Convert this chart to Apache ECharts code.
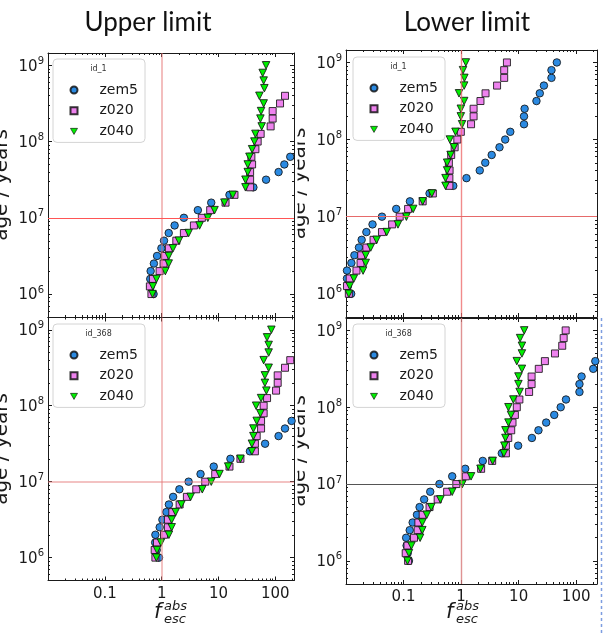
<!DOCTYPE html>
<html><head><meta charset="utf-8">
<script src="https://cdn.jsdelivr.net/npm/echarts@6/dist/echarts.min.js"></script>
<style>html,body{margin:0;padding:0;background:#fff}#c{width:603px;height:635px}</style>
</head><body><div id="c"></div>
<script>
// ---- data ----
const ages = [1e6, 1.26e6, 1.58e6, 2e6, 2.51e6, 3.16e6, 3.98e6, 5.01e6, 6.31e6, 7.94e6,
  1e7, 1.26e7, 1.58e7, 2e7, 2.51e7, 3.16e7, 3.98e7, 5.01e7, 6.31e7, 7.94e7,
  1e8, 1.26e8, 1.58e8, 2e8, 2.51e8, 3.16e8, 3.98e8, 5.01e8, 6.31e8, 7.94e8, 1e9];
const seriesNames = ['zem5', 'z020', 'z040'];
const panelTitles = ['Upper limit', 'Lower limit'];
const legendTitles = ['id_1', 'id_1', 'id_368', 'id_368'];
const xTickLabels = [0.1, 1, 10, 100];
const yTickLabels = [1e6, 1e7, 1e8, 1e9];
const refX = 1, refY = 1e7;

// Upper limit, id_1
const tl_zem5 = [0.72, 0.64, 0.63, 0.64, 0.73, 0.83, 0.99, 1.1, 1.33, 1.69, 2.46, 4.33, 7.45, 15.6, 41.1, 68.7, 114, 144, 183, null, null, null, null, null, null, null, null, null, null, null, null];
const tl_z020 = [0.66, 0.62, 0.70, 0.92, 1.08, 1.13, 1.34, 1.81, 2.46, 3.69, 5.09, 7.14, 13.3, 19.1, 36, 36, 36, 39, 37.9, 44.6, 48.9, 55.2, 82.7, 89.7, 89.7, 121, 148, null, null, null, null];
const tl_z040 = [0.69, 0.70, 0.81, 1.16, 1.33, 1.33, 1.58, 2.01, 2.98, 4.64, 6.49, 8.51, 12.7, 17.8, 29.8, 29.8, 32.7, 32.7, 35, 39, 42.8, 44.6, 57.5, 54.6, 56.1, 62.3, 52.4, 64.1, 62.3, 59.9, 68.7];
// Lower limit, id_1
const tr_zem5 = [0.0123, 0.0108, 0.0104, 0.0104, 0.0124, 0.0140, 0.0168, 0.0187, 0.0226, 0.0289, 0.0422, 0.0746, 0.129, 0.283, 0.731, 1.24, 2.11, 2.63, 3.40, 4.65, 5.84, 7.16, 12.4, 12.4, 12.7, 20.4, 23.3, 27.5, 37.2, 37.2, 46.1];
const tr_z020 = [0.0112, 0.0104, 0.0116, 0.0152, 0.0179, 0.0184, 0.0226, 0.0301, 0.0422, 0.0633, 0.0857, 0.120, 0.215, 0.323, 0.626, 0.626, 0.631, 0.613, 0.673, 0.773, 0.860, 0.99, 1.49, 1.65, 1.65, 2.17, 2.66, 4.22, 5.61, 5.61, 6.26];
const tr_z040 = [0.0112, 0.0116, 0.0137, 0.0198, 0.0220, 0.0220, 0.0269, 0.0340, 0.0510, 0.0800, 0.112, 0.147, 0.215, 0.310, 0.536, 0.536, 0.572, 0.572, 0.657, 0.752, 0.639, 0.80, 1.04, 0.99, 0.99, 1.13, 0.92, 1.13, 1.14, 1.08, 1.21];
// Upper limit, id_368
const bl_zem5 = [0.897, 0.817, 0.769, 0.775, 0.923, 1.03, 1.21, 1.34, 1.59, 2.05, 2.98, 4.83, 8.24, 16.2, 35.7, 66, 114, 148, 193, null, null, null, null, null, null, null, null, null, null, null, null];
const bl_z020 = [0.775, 0.754, 0.827, 1.10, 1.29, 1.29, 1.54, 2.07, 2.78, 4.06, 5.84, 8.75, 15.6, 24.3, 43.7, 43.7, 47, 56.1, 56.1, 62.3, 62.3, 71.5, 103, 110, 110, 148, 183, null, null, null, null];
const bl_z040 = [0.807, 0.827, 0.972, 1.34, 1.50, 1.50, 1.76, 2.22, 3.23, 5.18, 7.45, 10.4, 14.8, 24.3, 38.7, 38.7, 41.1, 41.1, 47, 54.6, 45.9, 56.1, 69.5, 65.5, 65.5, 76.3, 62.3, 76.3, 76.3, 71.5, 85.1];
// Lower limit, id_368
const br_zem5 = [0.124, 0.118, 0.113, 0.111, 0.128, 0.144, 0.171, 0.190, 0.228, 0.291, 0.420, 0.701, 1.18, 2.38, 5.10, 9.80, 17.0, 22.1, 30.1, 41.6, 53.8, 66.5, 114, 114, 124, 198, 215, null, null, null, null];
const br_z020 = [0.120, 0.109, 0.117, 0.152, 0.176, 0.181, 0.215, 0.283, 0.392, 0.572, 0.826, 1.21, 2.23, 3.47, 6.01, 6.01, 6.60, 7.43, 7.83, 8.60, 9.29, 10.3, 15.2, 16.8, 16.8, 22.4, 28.6, 42.8, 57.2, 60.6, 65.7];
const br_z040 = [0.117, 0.124, 0.137, 0.194, 0.212, 0.212, 0.253, 0.303, 0.437, 0.701, 1.05, 1.49, 2.17, 3.54, 5.54, 5.65, 5.89, 5.89, 6.65, 7.37, 6.65, 8.09, 10.4, 9.92, 9.92, 11.4, 9.29, 11.4, 11.4, 10.6, 12.5];

// ---- layout / style ----
const FONT = '"DejaVu Sans", sans-serif';
const INK = '#1a1a1a';
const styles = [
  {symbol: 'circle', size: 7.5, rotate: 0, color: '#2b8ae2'},
  {symbol: 'rect', size: 7, rotate: 0, color: '#ee82ee'},
  {symbol: 'triangle', size: 7.5, rotate: 180, color: '#00f000'}
];
const DOWN_TRIANGLE = 'path://M0,0L7,0L3.5,6.06Z';
const panels = [
  {grid: {left: 48, top: 53, width: 246, height: 264}, xmax: 213, showX: false, box: {left: 53, top: 59}, nameGap: 36, front: true,
   d: [tl_zem5, tl_z020, tl_z040], vLine: {color: 'rgba(228,110,110,0.45)', width: 2}, hLine: {color: '#ff5555', width: 1}},
  {grid: {left: 346, top: 50, width: 251, height: 267}, xmax: 230, showX: false, box: {left: 353, top: 57}, nameGap: 36, front: false,
   d: [tr_zem5, tr_z020, tr_z040], vLine: {color: 'rgba(236,100,100,0.75)', width: 1.4}, hLine: {color: '#e66a6a', width: 1}},
  {grid: {left: 48, top: 317.5, width: 246, height: 263}, xmax: 213, showX: true, box: {left: 53, top: 324}, nameGap: 36, front: true,
   d: [bl_zem5, bl_z020, bl_z040], vLine: {color: 'rgba(228,120,120,0.45)', width: 2}, hLine: {color: 'rgba(228,120,120,0.45)', width: 2}},
  {grid: {left: 346, top: 318, width: 251, height: 266}, xmax: 230, showX: true, box: {left: 353, top: 324}, nameGap: 36, front: false,
   d: [br_zem5, br_z020, br_z040], vLine: {color: 'rgba(215,120,120,0.8)', width: 1.4}, hLine: {color: '#555555', width: 1}}
];
const YMIN = 5e5, YMAX = 1.45e9, XMIN = 0.01;

function minorVals(kFrom, kTo, lo, hi) {
  const out = [];
  for (let k = kFrom; k <= kTo; k++) for (let m = 2; m <= 9; m++) {
    const v = parseFloat((m * Math.pow(10, k)).toPrecision(3));
    if (v >= lo && v <= hi) out.push(v);
  }
  return out;
}

const xAxis = [], yAxis = [], series = [], legend = [], grid = [], graphic = [];

panels.forEach((p, g) => {
  grid.push(Object.assign({containLabel: false, outerBoundsMode: 'none'}, p.grid));
  const xMinor = minorVals(-2, 2, XMIN, p.xmax);
  const yMinor = minorVals(5, 8, YMIN, YMAX);
  const lineStyle = {color: INK, width: 1};
  const az = p.front ? 2 : 0;
  const xi = xAxis.length, yi = yAxis.length;
  ['bottom', 'top'].forEach((pos, j) => {
    xAxis.push({type: 'log', logBase: 10, gridIndex: g, position: pos, min: XMIN, max: p.xmax, z: az,
      axisLine: {show: true, onZero: false, lineStyle},
      axisTick: {show: true, inside: true, length: 4, customValues: xTickLabels, lineStyle},
      axisLabel: {show: j === 0 && p.showX, customValues: xTickLabels, formatter: v => String(v),
        fontSize: 15, fontFamily: FONT, color: INK, margin: 6},
      splitLine: {show: false}});
    xAxis.push({type: 'log', logBase: 10, gridIndex: g, position: pos, min: XMIN, max: p.xmax, z: az,
      axisLine: {show: false, onZero: false},
      axisTick: {show: true, inside: true, length: 2, customValues: xMinor, lineStyle},
      axisLabel: {show: false}, splitLine: {show: false}});
  });
  ['left', 'right'].forEach((pos, j) => {
    yAxis.push({type: 'log', logBase: 10, gridIndex: g, position: pos, min: YMIN, max: YMAX, z: az,
      axisLine: {show: true, onZero: false, lineStyle},
      axisTick: {show: true, inside: true, length: 4, customValues: yTickLabels, lineStyle},
      axisLabel: {show: j === 0, customValues: yTickLabels, margin: 4,
        formatter: v => '{b|10}{s|' + Math.round(Math.log10(v)) + '}',
        rich: {b: {fontSize: 15, fontFamily: FONT, color: INK, lineHeight: 18, verticalAlign: 'bottom'},
               s: {fontSize: 10, fontFamily: FONT, color: INK, lineHeight: 18, verticalAlign: 'top'}}},
      name: j === 0 ? 'age / years' : '', nameLocation: 'middle', nameGap: p.nameGap,
      nameTextStyle: {fontSize: 20, fontFamily: FONT, color: INK},
      splitLine: {show: false}});
    yAxis.push({type: 'log', logBase: 10, gridIndex: g, position: pos, min: YMIN, max: YMAX, z: az,
      axisLine: {show: false, onZero: false},
      axisTick: {show: true, inside: true, length: 2, customValues: yMinor, lineStyle},
      axisLabel: {show: false}, splitLine: {show: false}});
  });
  // reference lines
  series.push({type: 'scatter', name: 'ref' + g, xAxisIndex: xi, yAxisIndex: yi, data: [], z: 1.5,
    markLine: {silent: true, symbol: 'none', animation: false, label: {show: false},
      data: [{xAxis: refX, lineStyle: {type: 'solid', color: p.vLine.color, width: p.vLine.width}},
             {yAxis: refY, lineStyle: {type: 'solid', color: p.hLine.color, width: p.hLine.width}}]}});
  seriesNames.forEach((name, s) => {
    const st = styles[s];
    const data = ages.map((a, i) => [p.d[s][i], a]).filter(d => d[0] != null);
    series.push({type: 'scatter', name, xAxisIndex: xi, yAxisIndex: yi, data, z: 2 + s,
      symbol: st.symbol, symbolSize: st.size, symbolRotate: st.rotate, clip: true, animation: false,
      itemStyle: {color: st.color, borderColor: 'rgba(20,20,20,0.85)', borderWidth: 1, opacity: 1}});
  });
  legend.push({left: p.box.left, top: p.box.top, orient: 'vertical', selectedMode: false,
    padding: [23, 7, 3, 16.5], itemWidth: 7, itemHeight: 7, itemGap: 4.7, symbolKeepAspect: true,
    backgroundColor: 'rgba(255,255,255,0.85)', borderColor: '#d4d4d4', borderWidth: 1, borderRadius: 4,
    textStyle: {fontSize: 14, fontFamily: FONT, color: INK, lineHeight: 16, padding: [0, 0, 0, 17]},
    data: seriesNames.map(n => n === 'z040'
      ? {name: n, icon: DOWN_TRIANGLE, symbolRotate: 0, itemStyle: {color: styles[2].color, borderColor: 'rgba(20,20,20,0.85)', borderWidth: 0.8}}
      : {name: n})});
  graphic.push({type: 'text', x: p.box.left + 45.5, y: p.box.top + 10, z: 100,
    style: {text: legendTitles[g], fontSize: 8, fontFamily: FONT, fill: '#333', align: 'center', verticalAlign: 'middle'}});
});

// left panels overlay the right panels' axis names (as in the source composite)
graphic.push({type: 'rect', z: 1, shape: {x: 250, y: 100, width: 47.5, height: 470}, style: {fill: '#fff'}});
// panel titles
graphic.push({type: 'text', x: 148, y: 23, z: 100,
  style: {text: panelTitles[0], font: '26px Lato, "Open Sans", sans-serif', fill: '#111', align: 'center', verticalAlign: 'middle'}});
graphic.push({type: 'text', x: 467, y: 23, z: 100,
  style: {text: panelTitles[1], font: '26px Lato, "Open Sans", sans-serif', fill: '#111', align: 'center', verticalAlign: 'middle'}});
// x-axis labels f_esc^abs
[[154, 164], [446, 456]].forEach(([fx, sx]) => {
  graphic.push({type: 'text', x: fx, y: 613, z: 100,
    style: {text: 'f', font: 'italic 21px "DejaVu Sans"', fill: INK, align: 'left', verticalAlign: 'middle'}});
  graphic.push({type: 'text', x: sx, y: 607, z: 100,
    style: {text: 'abs', font: 'italic 13px "DejaVu Sans"', fill: INK, align: 'left', verticalAlign: 'middle'}});
  graphic.push({type: 'text', x: sx, y: 620, z: 100,
    style: {text: 'esc', font: 'italic 13px "DejaVu Sans"', fill: INK, align: 'left', verticalAlign: 'middle'}});
});
// screenshot selection edge
graphic.push({type: 'line', z: 100, shape: {x1: 601.5, y1: 318, x2: 601.5, y2: 635},
  style: {stroke: '#7d9de0', lineWidth: 1.5, lineDash: [3, 3]}});

const chart = echarts.init(document.getElementById('c'), null, {renderer: 'canvas'});
chart.setOption({animation: false, backgroundColor: '#fff', grid, xAxis, yAxis, series, legend, graphic});
</script></body></html>
